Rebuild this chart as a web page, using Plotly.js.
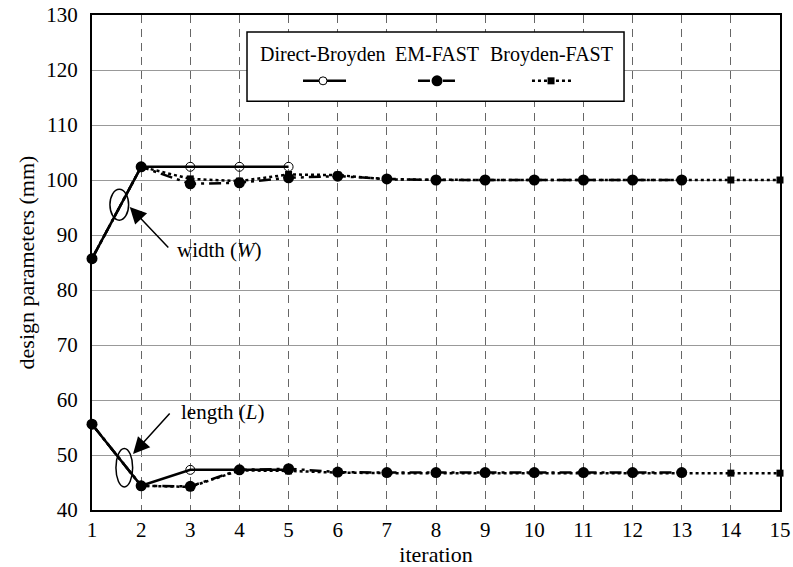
<!DOCTYPE html>
<html>
<head>
<meta charset="utf-8">
<script src="https://cdn.plot.ly/plotly-3.0.1.min.js"></script>
<style>html,body{margin:0;padding:0;background:#fff;}#chart{width:793px;height:567px;}</style>
</head>
<body>
<div id="chart"></div>
<script>
// ---- data ----
const directIter = [1, 2, 3, 4, 5];
const directW = [85.7, 102.4, 102.4, 102.4, 102.4];
const directL = [55.6, 44.4, 47.3, 47.3, 47.3];

const emIter = [1, 2, 3, 4, 5, 6, 7, 8, 9, 10, 11, 12, 13];
const emW = [85.7, 102.4, 99.3, 99.5, 100.4, 100.7, 100.2, 100.0, 100.0, 100.0, 100.0, 100.0, 100.0];
const emL = [55.6, 44.4, 44.3, 47.3, 47.5, 46.9, 46.8, 46.8, 46.8, 46.8, 46.8, 46.8, 46.8];

const bfIter = [1, 2, 3, 4, 5, 6, 7, 8, 9, 10, 11, 12, 13, 14, 15];
const bfW = [85.7, 102.4, 100.2, 99.8, 101.0, 100.9, 100.1, 100.0, 100.0, 100.0, 100.0, 100.0, 100.0, 100.0, 100.0];
const bfL = [55.6, 44.4, 44.2, 47.2, 47.1, 46.8, 46.7, 46.7, 46.7, 46.7, 46.7, 46.7, 46.7, 46.7, 46.7];

const seriesNames = ['Direct-Broyden', 'EM-FAST', 'Broyden-FAST'];
const xTicks = [1, 2, 3, 4, 5, 6, 7, 8, 9, 10, 11, 12, 13, 14, 15];
const yTicks = [40, 50, 60, 70, 80, 90, 100, 110, 120, 130];

// ---- styles ----
const FONT = 'Liberation Serif, Times New Roman, serif';
const bfStyle = {line: {color: '#000', width: 2.5, dash: 'dot'}, marker: {symbol: 'square', size: 7, color: '#000'}};
const emStyle = {line: {color: '#000', width: 2.5, dash: '12px,5px,3px,5px'}, marker: {symbol: 'circle', size: 11, color: '#000'}};
const dbStyle = {line: {color: '#000', width: 2.5, dash: 'solid'}, marker: {symbol: 'circle-open', size: 9, color: '#000', line: {width: 1, color: '#000'}}};

function tr(x, y, st) {
  return {x: x, y: y, type: 'scatter', mode: 'lines+markers', line: st.line, marker: st.marker, showlegend: false, cliponaxis: false};
}

const data = [
  tr(bfIter, bfW, bfStyle), tr(bfIter, bfL, bfStyle),
  tr(emIter, emW, emStyle), tr(emIter, emL, emStyle),
  tr(directIter, directW, dbStyle), tr(directIter, directL, dbStyle)
];

// legend drawn manually (text above line sample)
const lgX = [0.3358, 0.5015, 0.6672];
const lgTextY = 0.921, lgSymY = 0.867;
const shapes = [
  {type: 'rect', xref: 'paper', yref: 'paper', x0: 0.2253, x1: 0.7733, y0: 0.826, y1: 0.9657, line: {color: '#000', width: 1.5}, fillcolor: '#fff', layer: 'above'},
  // ellipses
  {type: 'circle', xref: 'x', yref: 'y', x0: 1.365, x1: 1.745, y0: 92.7, y1: 98.3, line: {color: '#000', width: 1.5}},
  {type: 'circle', xref: 'x', yref: 'y', x0: 1.487, x1: 1.827, y0: 44.2, y1: 51.2, line: {color: '#000', width: 1.5}},
  // legend samples
  {type: 'line', xref: 'paper', yref: 'paper', x0: 0.3067, x1: 0.3692, y0: lgSymY, y1: lgSymY, line: {color: '#000', width: 2.5}, layer: 'above'},
  {type: 'line', xref: 'paper', yref: 'paper', x0: 0.4738, x1: 0.5320, y0: lgSymY, y1: lgSymY, line: {color: '#000', width: 2.5, dash: '12px,5px,3px,5px'}, layer: 'above'},
  {type: 'line', xref: 'paper', yref: 'paper', x0: 0.6395, x1: 0.6977, y0: lgSymY, y1: lgSymY, line: {color: '#000', width: 2.5, dash: 'dot'}, layer: 'above'},
  {type: 'circle', xref: 'paper', yref: 'paper', xsizemode: 'pixel', ysizemode: 'pixel', xanchor: lgX[0], yanchor: lgSymY, x0: -4, x1: 4, y0: -4, y1: 4, line: {color: '#000', width: 1}, fillcolor: '#fff', layer: 'above'},
  {type: 'circle', xref: 'paper', yref: 'paper', xsizemode: 'pixel', ysizemode: 'pixel', xanchor: lgX[1], yanchor: lgSymY, x0: -5.5, x1: 5.5, y0: -5.5, y1: 5.5, line: {color: '#000', width: 0}, fillcolor: '#000', layer: 'above'},
  {type: 'rect', xref: 'paper', yref: 'paper', xsizemode: 'pixel', ysizemode: 'pixel', xanchor: lgX[2], yanchor: lgSymY, x0: -3.5, x1: 3.5, y0: -3.5, y1: 3.5, line: {color: '#000', width: 0}, fillcolor: '#000', layer: 'above'}
];

function lgText(i) {
  return {xref: 'paper', yref: 'paper', x: lgX[i], y: lgTextY, xanchor: 'center', yanchor: 'middle', text: seriesNames[i], showarrow: false, font: {family: FONT, size: 20, color: '#000'}};
}

const annotations = [
  lgText(0), lgText(1), lgText(2),
  // arrows
  {xref: 'x', yref: 'y', x: 1.768, y: 95.1, ax: 40, ay: 42, text: '', showarrow: true, arrowhead: 2, arrowsize: 2.2, arrowwidth: 1.5, arrowcolor: '#000'},
  {xref: 'x', yref: 'y', x: 1.835, y: 50.2, ax: 38, ay: -42, text: '', showarrow: true, arrowhead: 2, arrowsize: 2.2, arrowwidth: 1.5, arrowcolor: '#000'},
  {xref: 'x', yref: 'y', x: 3.59, y: 87.3, xanchor: 'center', yanchor: 'middle', text: 'width (<i>W</i>)', showarrow: false, font: {family: FONT, size: 21, color: '#000'}},
  {xref: 'x', yref: 'y', x: 3.65, y: 57.9, xanchor: 'center', yanchor: 'middle', text: 'length (<i>L</i>)', showarrow: false, font: {family: FONT, size: 21, color: '#000'}}
];

const layout = {
  width: 793, height: 567,
  margin: {l: 92, r: 13, t: 15, b: 57},
  paper_bgcolor: '#fff', plot_bgcolor: '#fff',
  font: {family: FONT, size: 21, color: '#000'},
  xaxis: {
    range: [0.9999, 15.0001], tickvals: xTicks, ticktext: xTicks.map(String),
    ticklabeloverflow: 'allow',
    showgrid: true, gridcolor: '#666', griddash: '8px,6px', gridwidth: 1,
    showline: true, linecolor: '#000', linewidth: 2, mirror: true,
    ticks: '', zeroline: false,
    title: {text: 'iteration', font: {family: FONT, size: 22}, standoff: 6}
  },
  yaxis: {
    range: [40, 130], tickvals: yTicks,
    showgrid: true, gridcolor: '#999', gridwidth: 1,
    showline: true, linecolor: '#000', linewidth: 2, mirror: true,
    ticks: '', zeroline: false, ticklabelstandoff: 8,
    title: {text: 'design parameters (mm)', font: {family: FONT, size: 22}, standoff: 6}
  },
  shapes: shapes,
  annotations: annotations
};

Plotly.newPlot('chart', data, layout, {displayModeBar: false, staticPlot: true});
</script>
</body>
</html>
